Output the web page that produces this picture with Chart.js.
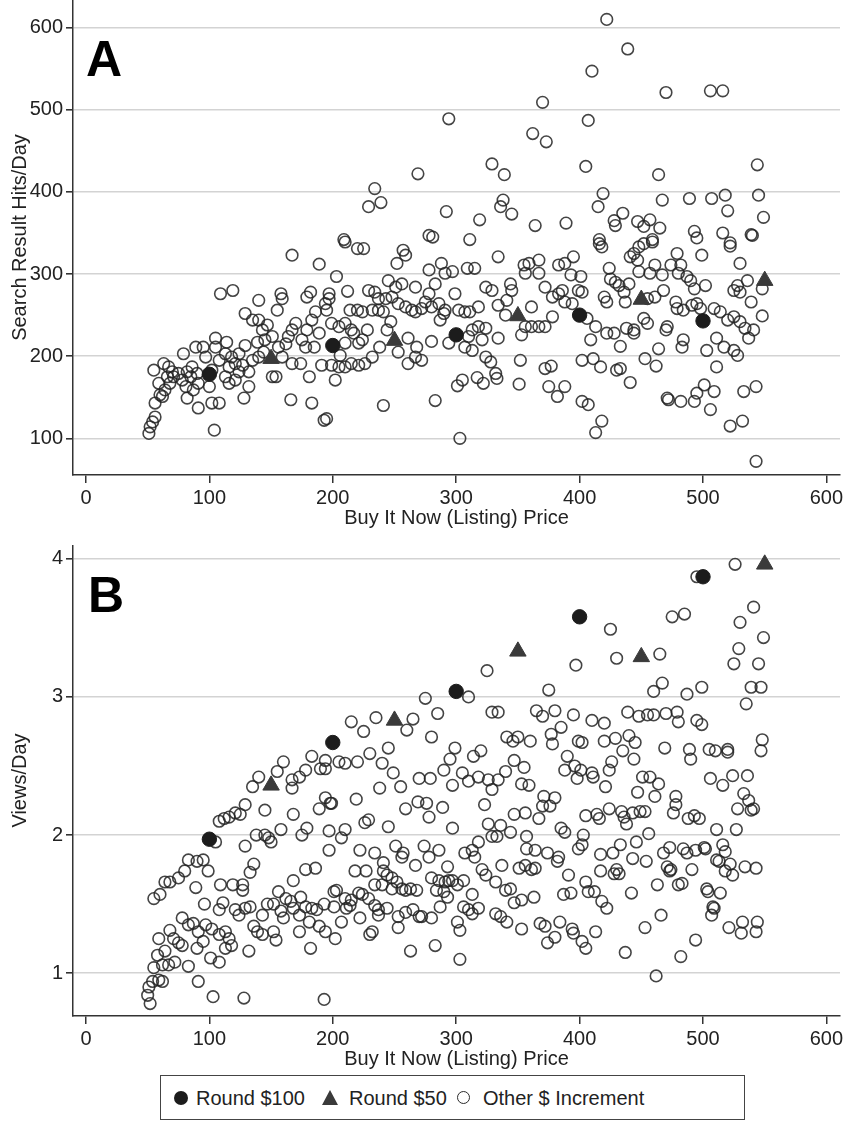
<!DOCTYPE html>
<html>
<head>
<meta charset="utf-8">
<script src="https://cdn.jsdelivr.net/npm/chart.js@4.4.0/dist/chart.umd.min.js"></script>
<style>
  body { margin: 0; background: #fff; font-family: "Liberation Sans", Arial, sans-serif; }
  #page { position: relative; width: 848px; height: 1130px; overflow: hidden; }
  .panel { position: absolute; left: 0; width: 848px; }
  .tag { position: absolute; font-weight: bold; font-size: 50px; line-height: 50px; color: #000; }
  #legend {
    position: absolute; left: 160px; top: 1075px; width: 585px; height: 45px;
    border: 1px solid #444; box-sizing: border-box; font-size: 20px; color: #222;
  }
  #legend span { position: absolute; }
  .txt { top: 10px; line-height: 24px; }
  .dot { top: 15px; width: 14px; height: 14px; border-radius: 50%; background: #1c1c1c; }
  .tri { top: 14px; width: 0; height: 0; border-left: 8.5px solid transparent; border-right: 8.5px solid transparent; border-bottom: 15px solid #3a3a3a; }
  .ring { top: 15px; width: 11px; height: 11px; border-radius: 50%; border: 1.6px solid #2b2b2b; }
</style>
</head>
<body>
<div id="page">
  <div class="panel" style="top:0;height:530px"><canvas id="chartA"></canvas></div>
  <div class="panel" style="top:545px;height:526px"><canvas id="chartB"></canvas></div>
  <div class="tag" style="left:86px;top:34px">A</div>
  <div class="tag" style="left:88px;top:570px">B</div>
  <div id="legend">
    <span class="dot" style="left:13px"></span><span class="txt" style="left:35px">Round $100</span>
    <span class="tri" style="left:161px"></span><span class="txt" style="left:188px">Round $50</span>
    <span class="ring" style="left:296px"></span><span class="txt" style="left:322px">Other $ Increment</span>
  </div>
</div>
<script>
// axis ticks
const xTicks = [0, 100, 200, 300, 400, 500, 600];
const yTicksA = [100, 200, 300, 400, 500, 600];
const yTicksB = [1, 2, 3, 4];

// Panel A: search result hits per day
const round100A = [[100, 178], [200, 213], [300, 226], [400, 250], [500, 243]];
const round50A = [[150, 197], [250, 219], [350, 249], [450, 269], [550, 292]];
const otherA = [
  [294,489],[370,509],[362,471],[373,461],[329,434],[339,421],[269,422],[234,404],[229,382],[239,387],
  [292,376],[319,366],[338,390],[336,382],[345,373],[364,359],[389,362],[278,347],[281,345],[209,342],[311,342],
  [422,610],[439,574],[410,547],[470,521],[506,523],[516,523],[407,487],[405,431],[464,421],[544,433],
  [419,398],[415,382],[435,374],[428,365],[429,359],[467,390],[489,392],[507,392],[518,396],[520,377],
  [545,396],[549,369],[447,364],[452,358],[457,366],[465,356],[493,352],[495,344],[516,350],[539,348],
  [540,347],[416,342],[459,342],[522,338],
  [51,106],[52,114],[54,120],[56,126],[56,143],[60,153],[59,167],[55,183],[63,191],[67,187],[70,181],
  [66,175],[68,167],[64,159],[62,151],[71,175],[75,179],[78,171],[82,181],[81,163],[85,175],[86,187],
  [90,179],[91,167],[87,159],[82,149],[79,203],[89,211],[95,211],[97,199],[102,183],[105,222],[105,211],
  [114,217],[113,203],[108,195],[100,163],[91,137],[108,143],[102,143],[104,110],[109,276],[119,280],
  [116,187],[121,191],[124,181],[121,171],[116,167],[113,175],[118,199],[124,203],[129,213],[127,189],
  [132,181],[128,149],[132,163],[135,195],[140,199],[144,205],[139,217],[135,244],[129,252],[140,268],
  [140,244],[143,232],[147,238],[151,224],[145,220],[155,256],[156,211],[154,175],[151,175],[159,199],
  [162,215],[164,224],[167,232],[170,240],[175,220],[178,211],[174,191],[167,191],[181,175],[183,143],
  [166,147],[191,189],[185,211],[179,232],[183,244],[186,254],[179,272],[182,278],[158,276],[159,270],
  [167,323],[189,312],[189,228],[194,264],[197,276],[193,122],
  [210,339],[220,331],[225,331],[203,297],[212,279],[197,270],[195,256],[199,240],[205,236],[210,240],
  [214,256],[220,256],[224,254],[232,256],[237,256],[241,254],[234,278],[229,280],[237,270],[243,270],
  [245,292],[251,284],[256,288],[252,313],[257,329],[259,323],[248,272],[253,264],[259,260],[264,256],
  [267,254],[272,258],[275,266],[278,276],[267,284],[280,260],[286,264],[290,252],[287,244],[291,256],
  [278,305],[288,313],[283,288],[291,301],[297,303],[309,307],[315,307],[334,321],[299,276],[302,256],
  [307,254],[311,254],[318,260],[324,284],[329,280],[334,262],[341,268],[345,280],[340,250],[344,288],
  [355,311],[359,313],[367,317],[356,301],[367,301],[372,284],[378,272],[383,276],[386,280],[383,311],
  [388,313],[395,321],[393,299],[399,280],[388,266],[394,264],[378,248],[361,260],[356,236],[361,236],
  [367,236],[372,236],[353,226],[334,222],[318,236],[313,232],[310,224],[321,220],[324,234],[307,211],
  [313,207],[294,216],[280,218],[261,222],[268,211],[267,199],[272,195],[261,191],[253,205],[247,242],
  [244,232],[238,211],[232,199],[228,232],[224,220],[221,216],[215,232],[210,216],[217,228],[226,191],
  [221,189],[215,191],[210,187],[205,187],[199,189],[206,201],[202,171],[195,124],[241,140],[283,146],
  [303,100],[301,164],[305,171],[317,174],[322,167],[324,199],[328,193],[332,179],[333,173],[352,195],
  [351,166],[372,185],[377,188],[375,163],[388,163],[382,151],[402,145],[402,195],
  [416,337],[418,333],[444,325],[448,333],[452,337],[459,339],[441,321],[447,317],[424,307],[425,294],
  [429,290],[432,286],[440,288],[436,278],[437,266],[422,266],[420,272],[448,303],[457,301],[461,311],
  [467,299],[474,311],[482,311],[480,301],[487,297],[490,292],[493,282],[502,286],[479,325],[499,323],
  [530,313],[522,334],[536,292],[528,286],[530,278],[525,280],[539,266],[548,282],[468,280],[461,272],
  [455,270],[478,266],[479,258],[484,256],[491,262],[495,264],[498,258],[509,258],[514,254],[520,244],
  [525,248],[530,242],[534,234],[541,232],[537,222],[548,249],[511,222],[517,211],[525,207],[528,201],
  [503,207],[511,187],[501,165],[509,157],[495,155],[493,145],[482,145],[471,149],[472,147],[506,135],
  [533,157],[543,163],[522,115],[532,121],[543,72],[409,220],[413,236],[406,246],[422,228],[428,228],
  [438,234],[444,232],[452,246],[455,240],[444,228],[433,212],[464,209],[453,197],[462,188],[433,185],
  [430,183],[441,168],[471,236],[470,232],[483,211],[484,220],[411,197],[417,187],[407,141],[418,121],
  [413,107],[402,278],[401,297]
];

// Panel B: views per day
const round100B = [[100, 1.97], [200, 2.67], [300, 3.04], [400, 3.58], [500, 3.87]];
const round50B = [[150, 2.36], [250, 2.83], [350, 3.33], [450, 3.29], [550, 3.96]];
const otherB = [
  [140,2.42],[155,2.46],[160,2.53],[167,2.40],[173,2.42],[178,2.47],[183,2.57],[190,2.48],[194,2.54],[135,2.35],[167,2.34],
  [325,3.19],[397,3.23],[375,3.05],[310,3.00],[275,2.99],[285,2.88],[265,2.84],[260,2.76],[235,2.85],[215,2.82],
  [225,2.75],[280,2.71],[245,2.63],[230,2.59],[220,2.53],[205,2.53],[210,2.52],[194,2.48],[240,2.52],[249,2.45],
  [255,2.35],[238,2.34],[299,2.63],[295,2.55],[290,2.47],[314,2.57],[320,2.61],[305,2.45],[310,2.39],[297,2.36],
  [318,2.42],[326,2.40],[334,2.40],[340,2.46],[347,2.54],[355,2.49],[353,2.37],[359,2.36],[341,2.71],[346,2.68],
  [350,2.71],[360,2.68],[329,2.89],[334,2.89],[365,2.90],[370,2.86],[380,2.90],[395,2.87],[377,2.73],[378,2.66],
  [385,2.78],[390,2.57],[388,2.47],[396,2.50],[399,2.68],[398,2.41],[270,2.41],[279,2.41],
  [526,3.96],[495,3.87],[541,3.65],[530,3.54],[549,3.43],[475,3.58],[485,3.60],[425,3.49],[430,3.28],[465,3.31],
  [529,3.35],[525,3.24],[545,3.24],[467,3.10],[460,3.04],[487,3.02],[499,3.07],[539,3.07],[547,3.07],[535,2.95],
  [439,2.89],[448,2.86],[455,2.87],[460,2.87],[470,2.88],[479,2.89],[480,2.82],[495,2.83],[499,2.80],[410,2.83],
  [420,2.81],[402,2.67],[420,2.68],[429,2.70],[440,2.72],[445,2.67],[435,2.61],[444,2.55],[469,2.63],[489,2.62],
  [490,2.55],[505,2.62],[510,2.61],[520,2.62],[520,2.60],[548,2.69],[547,2.61],[426,2.53],[424,2.47],[410,2.45],
  [411,2.42],[401,2.47],[451,2.42],[457,2.42],[464,2.37],[506,2.41],[516,2.36],[524,2.43],[536,2.43],[421,2.35],
  [129,2.22],[125,2.15],[121,2.16],[116,2.13],[112,2.12],[108,2.10],[145,2.18],[168,2.15],[105,1.95],[138,2.00],
  [145,2.00],[148,1.98],[150,1.95],[158,2.04],[175,2.00],[179,2.05],[189,2.19],[194,2.27],[198,2.23],[129,1.92],
  [136,1.79],[133,1.73],[83,1.82],[90,1.81],[95,1.82],[99,1.74],[80,1.74],[75,1.69],[68,1.66],[64,1.66],
  [60,1.57],[55,1.54],[89,1.62],[109,1.64],[119,1.64],[127,1.60],[127,1.64],[168,1.67],[178,1.75],[186,1.76],
  [96,1.50],[111,1.51],[108,1.46],[121,1.46],[124,1.42],[129,1.47],[133,1.48],[143,1.42],[147,1.50],
  [152,1.50],[156,1.59],[162,1.54],[166,1.52],[168,1.47],[174,1.55],[178,1.48],[183,1.47],[187,1.46],[193,1.50],
  [173,1.42],[181,1.37],[189,1.34],[194,1.30],[158,1.45],[160,1.40],[136,1.34],[139,1.30],[143,1.28],[154,1.24],
  [152,1.30],[173,1.30],[182,1.18],[132,1.16],[78,1.40],[83,1.35],[87,1.36],[91,1.30],[97,1.35],[102,1.32],
  [108,1.28],[113,1.30],[116,1.25],[118,1.20],[113,1.18],[108,1.08],[101,1.11],[95,1.23],[90,1.18],[83,1.05],
  [78,1.20],[71,1.25],[68,1.31],[75,1.22],[64,1.16],[59,1.25],[58,1.13],[62,1.06],[55,1.04],[54,0.94],
  [51,0.90],[50,0.84],[52,0.78],[59,0.95],[62,0.94],[67,1.06],[72,1.08],[91,0.94],[103,0.83],[128,0.82],[193,0.81],
  [199,2.23],[219,2.26],[259,2.19],[269,2.24],[276,2.23],[278,2.13],[289,2.20],[297,2.05],[329,2.33],[323,2.22],
  [347,2.15],[356,2.16],[367,2.12],[370,2.21],[371,2.28],[380,2.27],[376,2.21],[326,2.08],[336,2.07],[344,2.02],
  [329,1.99],[333,1.99],[357,1.99],[385,2.05],[388,2.02],[403,2.00],[245,2.06],[226,2.09],[229,2.11],[210,2.04],
  [207,1.98],[197,2.03],[197,1.89],[222,1.89],[234,1.87],[241,1.80],[251,1.92],[257,1.87],[256,1.84],[267,1.78],
  [274,1.92],[278,1.84],[286,1.89],[293,1.77],[306,1.67],[307,1.87],[313,1.89],[318,1.95],[315,1.84],[321,1.75],
  [324,1.71],[332,1.66],[337,1.78],[351,1.76],[356,1.78],[361,1.75],[364,1.76],[357,1.90],[364,1.89],[374,1.87],
  [383,1.84],[382,1.81],[391,1.71],[387,1.57],[393,1.58],[399,1.90],[405,1.66],[363,1.55],[353,1.53],[347,1.51],
  [340,1.60],[344,1.61],[336,1.41],[332,1.43],[341,1.37],[353,1.32],[368,1.36],[372,1.34],[374,1.22],[384,1.37],
  [380,1.26],[394,1.32],[395,1.29],[402,1.23],[405,1.18],[218,1.74],[227,1.74],[241,1.74],[244,1.71],[248,1.69],
  [252,1.66],[240,1.64],[234,1.64],[248,1.61],[256,1.61],[259,1.60],[263,1.61],[268,1.60],[280,1.69],[286,1.67],
  [291,1.66],[294,1.67],[284,1.60],[290,1.59],[293,1.55],[287,1.48],[280,1.40],[272,1.41],[270,1.41],[265,1.46],
  [259,1.44],[253,1.41],[244,1.47],[237,1.46],[234,1.49],[229,1.54],[224,1.57],[221,1.58],[215,1.53],[210,1.54],
  [203,1.60],[201,1.59],[201,1.48],[211,1.47],[214,1.49],[222,1.40],[237,1.42],[207,1.37],[202,1.25],
  [232,1.30],[230,1.28],[253,1.33],[263,1.16],[283,1.20],[303,1.10],[301,1.37],[303,1.31],[306,1.48],[313,1.57],
  [313,1.43],[318,1.47],[310,1.46],[301,1.64],[297,1.67],
  [447,2.31],[461,2.28],[478,2.28],[478,2.22],[476,2.16],[488,2.12],[493,2.14],[497,2.12],[533,2.30],[537,2.25],
  [528,2.19],[539,2.18],[541,2.19],[511,2.04],[527,2.04],[405,2.14],[414,2.15],[416,2.12],[424,2.19],[434,2.17],
  [436,2.13],[438,2.08],[443,2.16],[449,2.17],[453,2.17],[456,2.01],[402,1.93],[417,1.86],[427,1.87],[433,1.93],
  [446,1.95],[443,1.83],[454,1.81],[417,1.74],[428,1.72],[432,1.72],[430,1.75],[468,1.87],[473,1.91],[484,1.90],
  [487,1.87],[494,1.89],[501,1.91],[502,1.90],[516,1.93],[518,1.88],[511,1.82],[513,1.81],[522,1.79],[518,1.74],
  [524,1.71],[534,1.77],[543,1.76],[491,1.75],[471,1.77],[473,1.74],[474,1.75],[463,1.64],[480,1.64],[483,1.65],
  [503,1.61],[504,1.59],[514,1.58],[508,1.48],[509,1.47],[507,1.42],[407,1.59],[412,1.59],[418,1.52],[422,1.47],
  [442,1.58],[466,1.42],[453,1.33],[413,1.30],[437,1.15],[494,1.24],[482,1.12],[462,0.98],[521,1.33],[532,1.37],
  [531,1.29],[544,1.37],[543,1.30]
];

const axisFont = { family: '"Liberation Sans", Arial, sans-serif', size: 20 };
const toPoints = list => list.map(p => ({ x: p[0], y: p[1] }));

function xScale() {
  return {
    type: 'linear', min: -10.5, max: 611,
    afterBuildTicks: ax => { ax.ticks = xTicks.map(v => ({ value: v })); },
    afterFit: ax => { ax.height = 55; ax.paddingLeft = 0; ax.paddingRight = 0; },
    grid: { drawOnChartArea: false, color: '#333', lineWidth: 1.5, tickLength: 8 },
    border: { color: '#333', width: 1.5 },
    ticks: { font: axisFont, color: '#222', padding: 3, autoSkip: false, maxRotation: 0 },
    title: { display: true, text: 'Buy It Now (Listing) Price', font: axisFont, color: '#222', padding: { top: 0, bottom: 0 } }
  };
}

function yScale(ticks, min, max, title) {
  return {
    type: 'linear', min: min, max: max,
    afterBuildTicks: ax => { ax.ticks = ticks.map(v => ({ value: v })); },
    afterFit: ax => { ax.width = 73; ax.paddingTop = 0; ax.paddingBottom = 0; },
    grid: { color: '#d3d3d3', lineWidth: 1.6, tickColor: '#333', tickLength: 7 },
    border: { color: '#333', width: 1.5 },
    ticks: { font: axisFont, color: '#222', padding: 3, autoSkip: false },
    title: { display: true, text: title, font: axisFont, color: '#222', padding: { top: 8, bottom: 0 } }
  };
}

function makeChart(id, r100, r50, other, yTicks, ymin, ymax, ytitle) {
  return new Chart(document.getElementById(id), {
    type: 'scatter',
    data: {
      datasets: [
        { label: 'Round $100', data: toPoints(r100), pointStyle: 'circle', pointRadius: 7.2,
          backgroundColor: '#1c1c1c', borderColor: '#1c1c1c', borderWidth: 1, clip: false },
        { label: 'Round $50', data: toPoints(r50), pointStyle: 'triangle', pointRadius: 9.5,
          backgroundColor: '#3a3a3a', borderColor: '#3a3a3a', borderWidth: 1, clip: false },
        { label: 'Other $ Increment', data: toPoints(other), pointStyle: 'circle', pointRadius: 5.8,
          backgroundColor: 'rgba(0,0,0,0)', borderColor: 'rgba(35,35,35,0.85)', borderWidth: 1.6, clip: false }
      ]
    },
    options: {
      responsive: true, maintainAspectRatio: false, animation: false, devicePixelRatio: 1,
      layout: { autoPadding: false, padding: { left: 0, right: 8, top: 0, bottom: 0 } },
      plugins: { legend: { display: false }, tooltip: { enabled: false } },
      scales: { x: xScale(), y: yScale(yTicks, ymin, ymax, ytitle) }
    }
  });
}

makeChart('chartA', round100A, round50A, otherA, yTicksA, 55.4, 633.6, 'Search Result Hits/Day');
makeChart('chartB', round100B, round50B, otherB, yTicksB, 0.69, 4.1, 'Views/Day');
</script>
</body>
</html>
